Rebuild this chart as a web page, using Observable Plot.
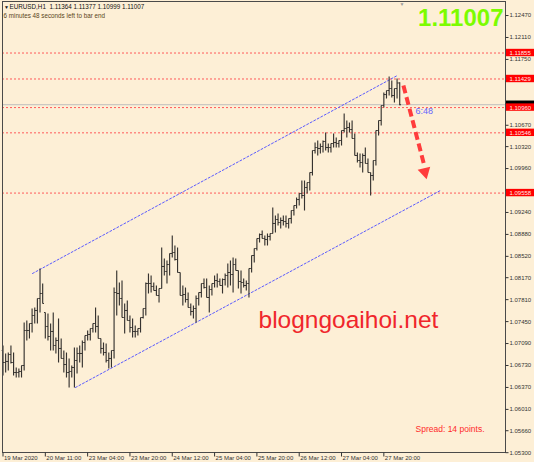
<!DOCTYPE html>
<html><head><meta charset="utf-8">
<script src="https://cdn.jsdelivr.net/npm/d3@7"></script>
<script src="https://cdn.jsdelivr.net/npm/@observablehq/plot@0.6"></script>
<style>
html,body{margin:0;padding:0;background:#fdefd6;}
#chart svg{display:block;}
g[aria-label="arrow"], g[aria-label="arrowhead"]{filter:drop-shadow(1.5px 1.5px 1px rgba(60,40,20,0.45));}
g[aria-label="watermark"]{filter:drop-shadow(1px 1px 0.6px rgba(80,50,40,0.45));}
</style></head><body><div id="chart"></div>
<script>
// EURUSD H1 bars (151 hourly bars)
const highs = [1.07058,1.06927,1.06943,1.07058,1.06943,1.06697,1.06681,1.06730,1.07435,1.07468,
1.07419,1.07665,1.07681,1.07829,1.08321,1.08075,1.07599,1.07583,1.07419,1.07599,
1.07189,1.07501,1.07173,1.06976,1.06943,1.06845,1.06730,1.07025,1.07025,1.07058,
1.07140,1.07222,1.07304,1.07337,1.07419,1.07681,1.07550,1.07173,1.07107,1.07091,
1.06943,1.06976,1.08009,1.08288,1.08091,1.08124,1.07747,1.07796,1.07550,1.07501,
1.07386,1.07337,1.07517,1.07665,1.08091,1.08239,1.08206,1.08091,1.08042,1.07993,
1.08665,1.08485,1.08452,1.08567,1.08862,1.08698,1.08665,1.08255,1.08042,1.08009,
1.07927,1.07747,1.07714,1.07878,1.07927,1.08075,1.08157,1.08157,1.08042,1.08075,
1.08206,1.08239,1.08157,1.08157,1.08239,1.08403,1.08452,1.08501,1.08485,1.08288,
1.08288,1.08157,1.08124,1.08321,1.08534,1.08649,1.08813,1.08895,1.08944,1.08862,
1.08895,1.08895,1.09321,1.09190,1.09223,1.09157,1.09190,1.09190,1.09141,1.09272,
1.09354,1.09485,1.09551,1.09764,1.09764,1.09731,1.09895,1.10256,1.10387,1.10420,
1.10371,1.10420,1.10551,1.10371,1.10371,1.10535,1.10469,1.10420,1.10584,1.10863,
1.10748,1.10715,1.10748,1.10535,1.10223,1.10207,1.10207,1.10305,1.10125,1.09895,
1.10092,1.10584,1.10748,1.10994,1.11207,1.11240,1.11470,1.11404,1.11273,1.11437,
1.11377];
const lows = [1.06566,1.06615,1.06648,1.06763,1.06566,1.06533,1.06533,1.06533,1.06648,1.07140,
1.07173,1.07271,1.07419,1.07419,1.07599,1.07747,1.07173,1.07140,1.06976,1.06976,
1.06927,1.06779,1.06845,1.06615,1.06533,1.06369,1.06533,1.06369,1.06599,1.06779,
1.06697,1.06976,1.07140,1.07140,1.07271,1.07271,1.07173,1.06927,1.06894,1.06779,
1.06681,1.06697,1.06845,1.07550,1.07714,1.07517,1.07255,1.07468,1.07271,1.07189,
1.07189,1.07222,1.07271,1.07501,1.07550,1.07911,1.07927,1.07960,1.07878,1.07763,
1.07993,1.08206,1.08075,1.08206,1.08501,1.08452,1.08255,1.07878,1.07714,1.07763,
1.07681,1.07550,1.07501,1.07435,1.07714,1.07845,1.07993,1.07845,1.07599,1.07878,
1.08009,1.08009,1.08042,1.07911,1.08042,1.08009,1.08042,1.07927,1.08288,1.07993,
1.07911,1.08009,1.07960,1.07845,1.08255,1.08419,1.08616,1.08747,1.08813,1.08698,
1.08698,1.08780,1.08895,1.08911,1.09026,1.08977,1.09026,1.08993,1.08977,1.09059,
1.09190,1.09305,1.09354,1.09469,1.09272,1.09551,1.09600,1.09846,1.10207,1.10174,
1.10207,1.10223,1.10256,1.10223,1.10223,1.10305,1.10305,1.10305,1.10338,1.10551,
1.10469,1.10551,1.10453,1.10174,1.10059,1.09977,1.09895,1.10043,1.09895,1.09518,
1.09764,1.10010,1.10502,1.10666,1.10961,1.11109,1.11158,1.11125,1.11043,1.11109,
1.10999];
const opens = [1.06976,1.06779,1.06796,1.06910,1.06779,1.06615,1.06615,1.06632,1.06730,1.07304,
1.07304,1.07419,1.07550,1.07632,1.07829,1.07911,1.07599,1.07370,1.07206,1.07288,
1.07058,1.07140,1.07009,1.06845,1.06746,1.06615,1.06632,1.06697,1.06812,1.06927,
1.06927,1.07107,1.07222,1.07239,1.07337,1.07419,1.07370,1.07173,1.07009,1.06943,
1.06812,1.06845,1.06976,1.07927,1.07911,1.07829,1.07517,1.07632,1.07468,1.07353,
1.07288,1.07288,1.07337,1.07517,1.07665,1.08075,1.08075,1.08026,1.07960,1.07878,
1.07993,1.08354,1.08272,1.08386,1.08567,1.08583,1.08468,1.08255,1.07878,1.07894,
1.07812,1.07681,1.07616,1.07665,1.07829,1.07927,1.08075,1.08009,1.07845,1.07976,
1.08075,1.08124,1.08108,1.08042,1.08140,1.08206,1.08255,1.08222,1.08386,1.08288,
1.08108,1.08091,1.08042,1.08075,1.08321,1.08534,1.08649,1.08813,1.08878,1.08813,
1.08796,1.08846,1.08895,1.09059,1.09124,1.09075,1.09108,1.09091,1.09059,1.09141,
1.09272,1.09354,1.09452,1.09551,1.09518,1.09649,1.09731,1.09895,1.10256,1.10305,
1.10289,1.10322,1.10404,1.10305,1.10305,1.10371,1.10387,1.10371,1.10420,1.10584,
1.10617,1.10633,1.10600,1.10453,1.10174,1.10092,1.10059,1.10174,1.10043,1.09895,
1.09846,1.10092,1.10584,1.10748,1.10994,1.11174,1.11240,1.11273,1.11158,1.11273,
1.11364];
const closes = [1.06779,1.06796,1.06910,1.06779,1.06615,1.06615,1.06632,1.06730,1.07304,1.07304,
1.07419,1.07550,1.07632,1.07829,1.07911,1.07747,1.07370,1.07206,1.07288,1.07058,
1.07140,1.07009,1.06845,1.06746,1.06615,1.06632,1.06697,1.06812,1.06927,1.06927,
1.07107,1.07222,1.07239,1.07337,1.07419,1.07370,1.07173,1.07009,1.06943,1.06812,
1.06845,1.06976,1.07927,1.07911,1.07829,1.07517,1.07632,1.07468,1.07353,1.07288,
1.07288,1.07337,1.07517,1.07665,1.08075,1.08075,1.08026,1.07960,1.07878,1.07993,
1.08354,1.08272,1.08386,1.08567,1.08583,1.08468,1.08255,1.07878,1.07894,1.07812,
1.07681,1.07616,1.07665,1.07829,1.07927,1.08075,1.08009,1.07845,1.07976,1.08075,
1.08124,1.08108,1.08042,1.08140,1.08206,1.08255,1.08222,1.08386,1.08288,1.08108,
1.08091,1.08042,1.08075,1.08321,1.08534,1.08649,1.08813,1.08878,1.08813,1.08796,
1.08846,1.08895,1.09059,1.09124,1.09075,1.09108,1.09091,1.09059,1.09141,1.09272,
1.09354,1.09452,1.09551,1.09518,1.09649,1.09731,1.09895,1.10256,1.10305,1.10289,
1.10322,1.10404,1.10305,1.10305,1.10371,1.10387,1.10371,1.10420,1.10584,1.10617,
1.10633,1.10600,1.10453,1.10174,1.10092,1.10059,1.10174,1.10043,1.09895,1.09846,
1.10092,1.10584,1.10748,1.10994,1.11174,1.11240,1.11273,1.11158,1.11273,1.11364,
1.11007];

// time labels every 16 bars
const timeLabels = ["19 Mar 2020","20 Mar 11:00","23 Mar 04:00","23 Mar 20:00","24 Mar 12:00",
  "25 Mar 04:00","25 Mar 20:00","26 Mar 12:00","27 Mar 04:00","27 Mar 20:00"];
const timeLabelBars = [0,16,32,48,64,80,96,112,128,144];

// price axis tick labels
const priceTicks = [1.12470,1.12110,1.11750,1.11390,1.11030,1.10670,1.10320,1.09960,1.09600,1.09240,
  1.08880,1.08520,1.08170,1.07810,1.07450,1.07090,1.06730,1.06370,1.06010,1.05660,1.05300];
// ticks whose labels sit under the price-level tags
const hiddenTickLabels = [1.11390,1.11030,1.09600];

// horizontal levels (red dotted)
const levels = [1.11855,1.11429,1.10960,1.10546,1.09558];
const currentPrice = 1.11007;

// channel lines (bar index, price)
const channelUpper = [{i:11.15,p:1.08239},{i:149.1,p:1.11486}];
const channelLower = [{i:27.4,p:1.06369},{i:165.4,p:1.09600}];

// forecast arrow
const arrowShaft = [{i:151.4,p:1.11322},{i:159.4,p:1.09994}];
const arrowHead = [{i:159.5,p:1.09905}];

const bars = highs.map((h, i) => ({i, high: h, low: lows[i], open: opens[i], close: closes[i]}));

const X0 = -0.19, X1 = 190;
const Y0 = 1.05303, Y1 = 1.12700;
const PX = 503 / (X1 - X0);
const PY = 451 / (Y1 - Y0);
const font = "'Liberation Sans', Arial, sans-serif";
const fmt = d => d.toFixed(5);
const barColor = "#363330";

const chart = Plot.plot({
  width: 534, height: 462,
  marginLeft: 2, marginRight: 29, marginTop: 1, marginBottom: 10,
  x: {domain: [X0, X1], axis: null},
  y: {domain: [Y0, Y1], axis: null},
  style: {background: "#fdefd6", fontFamily: font, overflow: "visible"},
  marks: [
    Plot.ruleY([currentPrice], {stroke: "#bdbdbd", strokeWidth: 1}),
    Plot.ruleY(levels, {stroke: "#ff5a5a", strokeWidth: 1, strokeDasharray: "2,2"}),
    Plot.line(channelUpper, {x: "i", y: "p", stroke: "#5a5aff", strokeWidth: 1, strokeDasharray: "2,2"}),
    Plot.line(channelLower, {x: "i", y: "p", stroke: "#5a5aff", strokeWidth: 1, strokeDasharray: "2,2"}),
    Plot.link(bars, {x1: "i", x2: "i", y1: "low", y2: "high", stroke: barColor, strokeWidth: 1.15}),
    Plot.link(bars, {x1: d => d.i - 0.5, x2: "i", y1: "open", y2: "open", stroke: barColor, strokeWidth: 1}),
    Plot.link(bars, {x1: "i", x2: d => d.i + 0.5, y1: "close", y2: "close", stroke: barColor, strokeWidth: 1}),
    Plot.frame({stroke: "#4a4a4a"}),
    // forecast arrow
    Plot.link([arrowShaft], {x1: d => d[0].i, y1: d => d[0].p, x2: d => d[1].i, y2: d => d[1].p,
      stroke: "#ff3c3c", strokeWidth: 4, strokeDasharray: "8,4", ariaLabel: "arrow"}),
    Plot.dot(arrowHead, {x: "i", y: "p", symbol: "triangle", r: 4.8, rotate: 166, fill: "#ff3c3c", stroke: "none", ariaLabel: "arrowhead"}),
    // header texts
    Plot.text(["▼"], {frameAnchor: "top-left", lineAnchor: "bottom", dx: 1.5, dy: 7, textAnchor: "start", fontSize: 5, fill: "#111"}),
    Plot.text(["EURUSD,H1  1.11364 1.11377 1.10999 1.11007"], {frameAnchor: "top-left", lineAnchor: "bottom", dx: 7, dy: 7.5, textAnchor: "start", fontSize: 6.3, fill: "#111"}),
    Plot.text(["6 minutes 48 seconds left to bar end"], {frameAnchor: "top-left", lineAnchor: "bottom", dx: 1, dy: 16.3, textAnchor: "start", fontSize: 6.3, fill: "#5a4520"}),
    Plot.text(["▼"], {frameAnchor: "top-left", lineAnchor: "bottom", dx: 397, dy: 4, textAnchor: "start", fontSize: 5, fill: "#9a9a9a"}),
    Plot.text([fmt(currentPrice)], {frameAnchor: "top-right", lineAnchor: "bottom", dx: -2, dy: 24, textAnchor: "end", fontSize: 24, fontWeight: "bold", fill: "#7cfc00"}),
    Plot.text(["blogngoaihoi.net"], {frameAnchor: "top-left", lineAnchor: "bottom", dx: 256, dy: 326, textAnchor: "start", fontSize: 24.5, fill: "#f0262b", ariaLabel: "watermark"}),
    Plot.text(["Spread: 14 points."], {frameAnchor: "top-left", lineAnchor: "bottom", dx: 413, dy: 430, textAnchor: "start", fontSize: 8.5, fill: "#ff2a2a"}),
    Plot.text(["6:48"], {frameAnchor: "top-left", lineAnchor: "bottom", dx: 413, dy: 112, textAnchor: "start", fontSize: 9, fill: "#6464ff"}),
    // price axis
    Plot.link(priceTicks, {x1: X1, x2: X1 + 3 / PX, y1: d => d, y2: d => d, stroke: "#333"}),
    Plot.text(priceTicks.filter(d => !hiddenTickLabels.includes(d)), {x: X1 + 4 / PX, y: d => d, text: fmt, textAnchor: "start", fontSize: 6, fill: "#333"}),
    // time axis
    Plot.link(timeLabelBars, {x1: d => d, x2: d => d, y1: Y0, y2: Y0 - 4 / PY, stroke: "#333"}),
    Plot.text(timeLabelBars, {x: d => d, y: Y0, dy: 6, dx: 1, text: (d, k) => timeLabels[k], textAnchor: "start", fontSize: 6, fill: "#333"}),
    // price tags on axis (current price tag mostly covered by the 1.10960 tag)
    Plot.rect([currentPrice], {x1: X1 + 1 / PX, x2: X1 + 29 / PX, y1: d => d - 3.7 / PY, y2: d => d + 3.7 / PY, fill: "#000"}),
    Plot.rect(levels, {x1: X1 + 1 / PX, x2: X1 + 29 / PX, y1: d => d - 3.7 / PY, y2: d => d + 3.7 / PY, fill: "#ff0000"}),
    Plot.text(levels, {x: X1 + 4 / PX, y: d => d, text: fmt, textAnchor: "start", fontSize: 6, fill: "#ffe8e8"})
  ]
});
document.getElementById("chart").appendChild(chart);
</script>
</body></html>
